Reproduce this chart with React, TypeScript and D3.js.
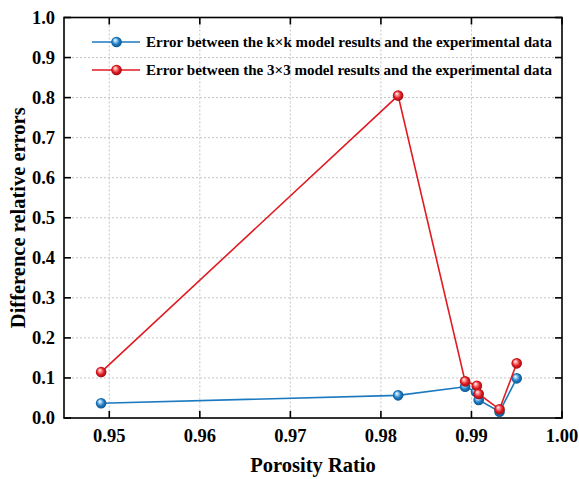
import React from "react";
import * as d3 from "d3";

const porosityKK = [0.9491, 0.9819, 0.9893, 0.9905, 0.9908, 0.9931, 0.995];
const errorKK = [0.0367, 0.0566, 0.078, 0.0656, 0.045, 0.0157, 0.099];
const porosity33 = [0.9491, 0.9819, 0.9893, 0.9906, 0.9908, 0.9931, 0.995];
const error33 = [0.1147, 0.805, 0.0915, 0.0806, 0.0599, 0.0217, 0.1364];
const xTicks = [0.95, 0.96, 0.97, 0.98, 0.99, 1.0];
const yTicks = [0.0, 0.1, 0.2, 0.3, 0.4, 0.5, 0.6, 0.7, 0.8, 0.9, 1.0];
const seriesNames = [
  "Error between the k\u00d7k model results and the experimental data",
  "Error between the 3\u00d73 model results and the experimental data",
];

const W = 579;
const H = 479;
const L = 64, R = 562, T = 17.5, B = 418;
const font = "'Liberation Serif', 'Times New Roman', serif";

export default function App() {
  const x = d3.scaleLinear().domain([0.945, 1.0]).range([L, R]);
  const y = d3.scaleLinear().domain([0, 1]).range([B, T]);
  const line = d3.line<[number, number]>().x((d) => x(d[0])).y((d) => y(d[1]));
  const series = [
    { xs: porosityKK, ys: errorKK, color: "#1c79c0", grad: "gBlue", light: "#9fd0f5", dark: "#0b4f86" },
    { xs: porosity33, ys: error33, color: "#e01b22", grad: "gRed", light: "#ff9a9a", dark: "#8e0a10" },
  ];
  const tickLen = 7;
  return (
    <svg width={W} height={H} style={{ position: "absolute", left: 0, top: 0, background: "#fff" }}>
      <defs>
        {series.map((s) => (
          <radialGradient key={s.grad} id={s.grad} cx="0.5" cy="0.5" r="0.55" fx="0.35" fy="0.3">
            <stop offset="0" stopColor="#ffffff" />
            <stop offset="0.25" stopColor={s.light} />
            <stop offset="0.6" stopColor={s.color} />
            <stop offset="1" stopColor={s.dark} />
          </radialGradient>
        ))}
      </defs>
      <rect x={0} y={0} width={W} height={H} fill="#fff" />
      {xTicks.filter((t) => t < 1.0).map((t) => (
        <line key={"gx" + t} x1={x(t)} x2={x(t)} y1={T} y2={B} stroke="#c4c4c4" strokeWidth={1} strokeDasharray="2,2" />
      ))}
      {yTicks.filter((t) => t > 0 && t < 1).map((t) => (
        <line key={"gy" + t} x1={L} x2={R} y1={y(t)} y2={y(t)} stroke="#c4c4c4" strokeWidth={1} strokeDasharray="2,2" />
      ))}
      {xTicks.map((t) => (
        <g key={"tx" + t}>
          <line x1={x(t)} x2={x(t)} y1={B} y2={B - tickLen} stroke="#000" strokeWidth={1.6} />
          <line x1={x(t)} x2={x(t)} y1={T} y2={T + tickLen} stroke="#000" strokeWidth={1.6} />
          <text x={x(t)} y={442} textAnchor="middle" fontFamily={font} fontWeight="bold" fontSize={18.5}>
            {t.toFixed(2)}
          </text>
        </g>
      ))}
      {yTicks.map((t) => (
        <g key={"ty" + t}>
          <line x1={L} x2={L + tickLen} y1={y(t)} y2={y(t)} stroke="#000" strokeWidth={1.6} />
          <line x1={R} x2={R - tickLen} y1={y(t)} y2={y(t)} stroke="#000" strokeWidth={1.6} />
          <text x={55} y={y(t)} dy="0.35em" textAnchor="end" fontFamily={font} fontWeight="bold" fontSize={18.5}>
            {t.toFixed(1)}
          </text>
        </g>
      ))}
      {series.map((s, si) => (
        <g key={"s" + si}>
          <path
            d={line(s.xs.map((v, i) => [v, s.ys[i]] as [number, number])) || ""}
            fill="none"
            stroke={s.color}
            strokeWidth={1.6}
          />
          {s.xs.map((v, i) => (
            <circle key={i} cx={x(v)} cy={y(s.ys[i])} r={5.3} fill={`url(#${s.grad})`} />
          ))}
        </g>
      ))}
      <rect x={L} y={T} width={R - L} height={B - T} fill="none" stroke="#000" strokeWidth={1.6} />
      {series.map((s, si) => {
        const ly = 42 + si * 28;
        return (
          <g key={"lg" + si}>
            <line x1={92} x2={140} y1={ly} y2={ly} stroke={s.color} strokeWidth={1.6} />
            <circle cx={116.5} cy={ly} r={5.3} fill={`url(#${s.grad})`} />
            <text x={146} y={ly} dy="0.35em" fontFamily={font} fontWeight="bold" fontSize={14.5} textLength={406} lengthAdjust="spacingAndGlyphs">
              {seriesNames[si]}
            </text>
          </g>
        );
      })}
      <text x={(L + R) / 2} y={472} textAnchor="middle" fontFamily={font} fontWeight="bold" fontSize={20.5}>
        Porosity Ratio
      </text>
      <text transform={`translate(25,${(T + B) / 2}) rotate(-90)`} textAnchor="middle" fontFamily={font} fontWeight="bold" fontSize={20.5}>
        Difference relative errors
      </text>
    </svg>
  );
}
